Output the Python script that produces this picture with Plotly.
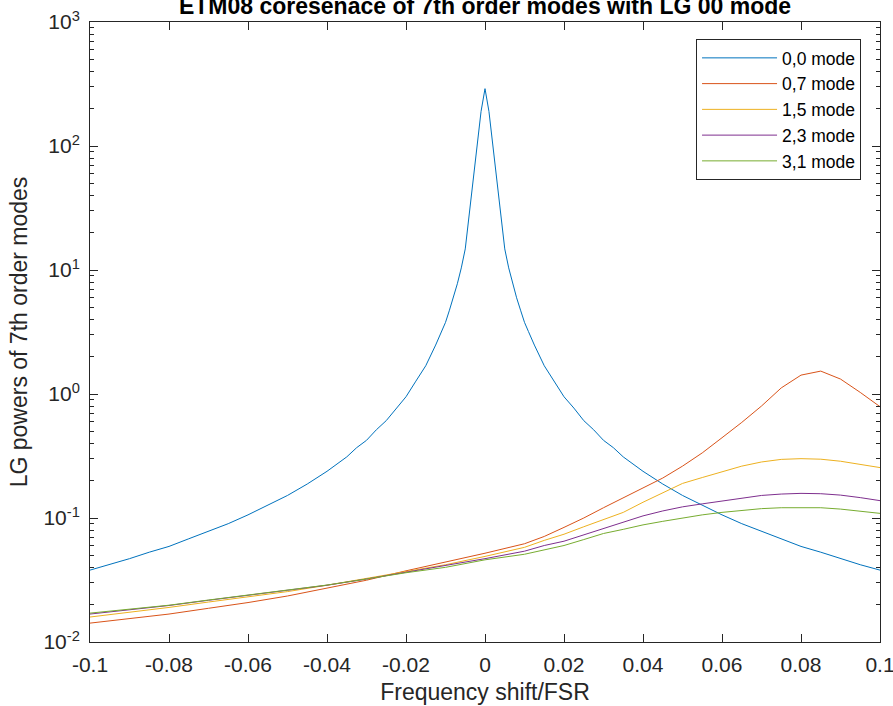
import plotly.graph_objects as go

# ---- data ----
x_blue = [-0.1, -0.095, -0.09, -0.085, -0.08, -0.075, -0.07, -0.065, -0.06, -0.055,
          -0.05, -0.045, -0.04, -0.035, -0.0325, -0.03, -0.0275, -0.025, -0.0225, -0.02,
          -0.0175, -0.015, -0.0125, -0.011, -0.01, -0.009, -0.008, -0.007, -0.006, -0.005,
          -0.001, 0.0, 0.001,
          0.005, 0.006, 0.007, 0.008, 0.009, 0.01, 0.011, 0.0125, 0.015, 0.0175,
          0.02, 0.0225, 0.025, 0.0275, 0.03, 0.0325, 0.035, 0.04, 0.045, 0.05,
          0.055, 0.06, 0.065, 0.07, 0.075, 0.08, 0.085, 0.09, 0.095, 0.1]
mode_00 = [0.038, 0.042, 0.047, 0.053, 0.059, 0.068, 0.078, 0.090, 0.106, 0.126,
           0.152, 0.188, 0.238, 0.311, 0.369, 0.423, 0.515, 0.61, 0.77, 0.95,
           1.27, 1.69, 2.48, 3.19, 3.78, 4.74, 5.97, 7.75, 10.4, 14.8,
           190, 290, 190,
           14.8, 10.4, 7.75, 5.97, 4.74, 3.78, 3.19, 2.48, 1.69, 1.27,
           0.95, 0.77, 0.61, 0.515, 0.423, 0.369, 0.311, 0.238, 0.188, 0.152,
           0.126, 0.106, 0.090, 0.078, 0.068, 0.059, 0.053, 0.047, 0.042, 0.038]

x_modes = [-0.1, -0.09, -0.08, -0.07, -0.06, -0.05, -0.04, -0.03, -0.02, -0.01,
           0.0, 0.01, 0.015, 0.02, 0.025, 0.03, 0.035, 0.04, 0.045, 0.05,
           0.055, 0.06, 0.065, 0.07, 0.075, 0.08, 0.085, 0.09, 0.095, 0.1]
mode_07 = [0.0142, 0.0155, 0.0168, 0.0187, 0.0208, 0.0235, 0.0272, 0.0315, 0.0375, 0.0440,
           0.052, 0.062, 0.071, 0.084, 0.100, 0.121, 0.146, 0.175, 0.21, 0.262,
           0.335, 0.444, 0.59, 0.80, 1.12, 1.42, 1.53, 1.32, 1.03, 0.79]
mode_15 = [0.0159, 0.0173, 0.019, 0.021, 0.023, 0.0255, 0.0287, 0.0325, 0.037, 0.042,
           0.049, 0.058, 0.066, 0.074, 0.085, 0.0975, 0.111, 0.134, 0.16, 0.19,
           0.212, 0.235, 0.262, 0.283, 0.297, 0.301, 0.298, 0.287, 0.272, 0.255]
mode_23 = [0.0168, 0.0182, 0.0197, 0.0217, 0.0239, 0.0262, 0.0287, 0.0322, 0.0365, 0.041,
           0.047, 0.054, 0.060, 0.065, 0.073, 0.0824, 0.092, 0.104, 0.114, 0.123,
           0.130, 0.137, 0.145, 0.152, 0.156, 0.158, 0.157, 0.153, 0.146, 0.138]
mode_31 = [0.0171, 0.0184, 0.0198, 0.0218, 0.024, 0.0263, 0.0288, 0.0322, 0.0362, 0.040,
           0.046, 0.051, 0.055, 0.060, 0.067, 0.075, 0.081, 0.088, 0.094, 0.100,
           0.106, 0.111, 0.115, 0.119, 0.121, 0.1216, 0.121, 0.118, 0.114, 0.109]

names = ["0,0 mode", "0,7 mode", "1,5 mode", "2,3 mode", "3,1 mode"]
colors = ["#0072BD", "#D95319", "#EDB120", "#7E2F8E", "#77AC30"]

x_tickvals = [-0.1, -0.08, -0.06, -0.04, -0.02, 0, 0.02, 0.04, 0.06, 0.08, 0.1]
x_ticktext = ["-0.1", "-0.08", "-0.06", "-0.04", "-0.02", "0", "0.02", "0.04", "0.06", "0.08", "0.1"]
y_tickvals = [1e-2, 1e-1, 1e0, 1e1, 1e2, 1e3]
y_ticktext = ["10<sup>-2</sup>", "10<sup>-1</sup>", "10<sup>0</sup>", "10<sup>1</sup>",
              "10<sup>2</sup>", "10<sup>3</sup>"]
y_minor = [m * 10 ** k for k in range(-2, 3) for m in range(2, 10)]

FONT = "Liberation Sans, Arial, sans-serif"
INK = "#262626"

fig = go.Figure()
series = [(x_blue, mode_00)] + [(x_modes, s) for s in (mode_07, mode_15, mode_23, mode_31)]
for (xs, ys), name, col in zip(series, names, colors):
    fig.add_trace(go.Scatter(x=xs, y=ys, mode="lines", name=name,
                             line=dict(color=col, width=1)))

fig.update_layout(
    width=893, height=706,
    margin=dict(l=90, r=13, t=22, b=64),
    paper_bgcolor="white", plot_bgcolor="white",
    font=dict(family=FONT, color=INK, size=21),
    title=dict(text="<b>ETM08 coresenace of 7th order modes with LG 00 mode</b>",
               x=0.5, xref="paper", xanchor="center",
               y=1 - 6 / 706, yref="container", yanchor="middle",
               font=dict(size=23, color="#000000")),
    showlegend=True,
    legend=dict(x=0.976, y=0.9726, xanchor="right", yanchor="top",
                bgcolor="white", bordercolor=INK, borderwidth=1,
                font=dict(size=17.5, color="#000000"), itemwidth=75,
                tracegroupgap=0),
)
fig.update_xaxes(
    range=[-0.1, 0.1], tickmode="array", tickvals=x_tickvals, ticktext=x_ticktext,
    showgrid=False, zeroline=False, showline=True, linecolor=INK, linewidth=1,
    mirror="ticks", ticks="inside", ticklen=8, tickcolor=INK,
    tickfont=dict(size=21, color=INK), ticklabelstandoff=4,
    ticklabeloverflow="allow", automargin=False,
    title=dict(text="Frequency shift/FSR", font=dict(size=23, color=INK), standoff=8),
)
fig.update_yaxes(
    type="log", range=[-2, 3], tickmode="array", tickvals=y_tickvals, ticktext=y_ticktext,
    showgrid=False, zeroline=False, showline=True, linecolor=INK, linewidth=1,
    mirror="ticks", ticks="inside", ticklen=8, tickcolor=INK,
    tickfont=dict(size=21, color=INK), ticklabelstandoff=5,
    ticklabeloverflow="allow", automargin=False,
    minor=dict(tickmode="array", tickvals=y_minor, ticks="inside", ticklen=4,
               tickcolor=INK, showgrid=False),
    title=dict(text="LG powers of 7th order modes", font=dict(size=23, color=INK), standoff=9),
)

fig.write_html("out.html")
